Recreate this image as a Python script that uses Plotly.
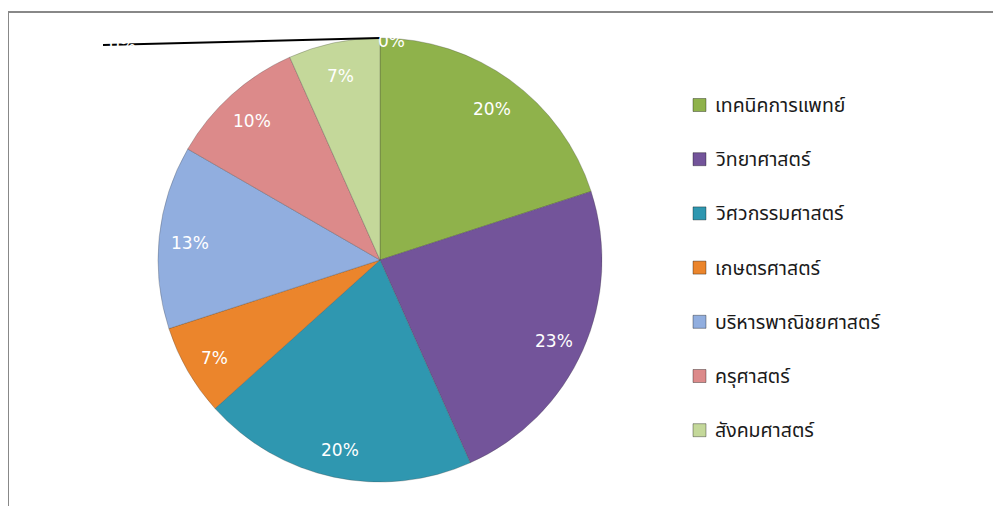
import math
import plotly.graph_objects as go

labels = ["เทคนิคการแพทย์", "วิทยาศาสตร์", "วิศวกรรมศาสตร์", "เกษตรศาสตร์",
          "บริหารพาณิชยศาสตร์", "ครุศาสตร์", "สังคมศาสตร์"]
values = [6, 7, 6, 2, 4, 3, 2]
colors = ["#8FB24B", "#73549A", "#2F97B0", "#EB852C", "#91AEDF", "#DC8A8A", "#C4D89A"]

# page has an 8px body margin; figure fills the rest of the 1001x506 window
OFF = 8
W, H = 1001 - OFF, 506 - OFF


def px(x):
    return (x - OFF) / W


def py(y):
    return 1 - (y - OFF) / H


CX, CY, R = 380, 260, 222
LBL = "DejaVu Sans, Verdana, sans-serif"

fig = go.Figure()
fig.add_trace(go.Pie(
    labels=labels, values=values, sort=False, direction="clockwise", rotation=0,
    marker=dict(colors=colors, line=dict(color="rgba(60,60,60,0.35)", width=0.8)),
    textinfo="none",
    domain=dict(x=[px(CX - R), px(CX + R)], y=[py(CY + R), py(CY - R)]),
    showlegend=False, hoverinfo="label+percent",
))

shapes = [
    dict(type="rect", xref="paper", yref="paper", x0=px(8), x1=1.02, y0=-0.02, y1=py(12),
         line=dict(color="#888888", width=2), fillcolor="rgba(0,0,0,0)"),
    dict(type="line", xref="paper", yref="paper", x0=px(380), y0=py(38), x1=px(103), y1=py(45),
         line=dict(color="black", width=2)),
]
annotations = [
    dict(text="0%", x=px(391), y=py(41), xref="paper", yref="paper", showarrow=False,
         xanchor="center", yanchor="middle",
         font=dict(color="white", size=17, family=LBL)),
    dict(text="0%", x=px(122), y=py(45), xref="paper", yref="paper", showarrow=False,
         xanchor="center", yanchor="middle",
         font=dict(color="white", size=17, family=LBL)),
]

# percentage labels placed near the outer part of each slice
total = sum(values)
cum = 0
for v in values:
    mid = (cum + v / 2) / total * 2 * math.pi
    cum += v
    r = 0.86 * R
    x = CX + r * math.sin(mid)
    y = CY - r * math.cos(mid) + 3
    annotations.append(dict(text=f"{round(100 * v / total)}%", x=px(x), y=py(y),
                            xref="paper", yref="paper", showarrow=False,
                            xanchor="center", yanchor="middle",
                            font=dict(color="white", size=17, family=LBL)))

# legend with wide spacing
leg_y0, leg_dy = 105, 54.2
for i, (lab, col) in enumerate(zip(labels, colors)):
    yc = leg_y0 + i * leg_dy
    shapes.append(dict(type="rect", xref="paper", yref="paper",
                       x0=px(693), x1=px(706), y0=py(yc + 6.5), y1=py(yc - 6.5),
                       fillcolor=col, line=dict(color="rgba(0,0,0,0.35)", width=1)))
    annotations.append(dict(text=lab, x=px(713), y=py(yc + 1), xref="paper", yref="paper",
                            xanchor="left", yanchor="middle", showarrow=False,
                            font=dict(color="#1a1a1a", size=19.5,
                                      family="Tahoma, Noto Sans Thai, Loma, Garuda, sans-serif")))

fig.update_layout(
    width=W, height=H, margin=dict(l=0, r=0, t=0, b=0),
    paper_bgcolor="white", plot_bgcolor="white",
    shapes=shapes, annotations=annotations,
)
fig.write_html("out.html")
